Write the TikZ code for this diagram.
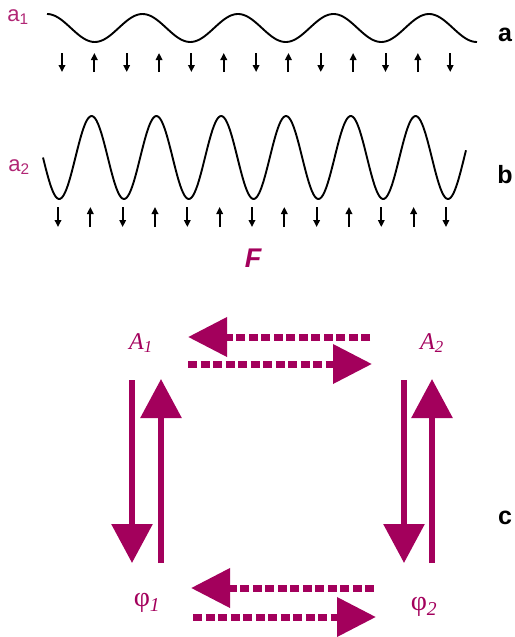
\documentclass[tikz,border=0pt]{standalone}
\usepackage{fontspec}
\setmainfont{Liberation Serif}
\setsansfont{Liberation Sans}
\usetikzlibrary{arrows.meta}
\definecolor{mg}{RGB}{163,0,92}

\begin{document}
\begin{tikzpicture}[x=1pt,y=-1pt,
  wave/.style={line width=1.9pt,line join=round},
  tick/.style={line width=2pt,-{Triangle[length=7pt,width=6.5pt]}},
  amp/.style={font=\sffamily\fontsize{22}{22}\selectfont,text=mg!85,inner sep=0pt},
  tag/.style={font=\sffamily\bfseries\fontsize{25}{25}\selectfont,inner sep=0pt},
  st/.style={font=\fontsize{24}{24}\selectfont,text=mg,inner sep=0pt},
  vert/.style={mg,line width=6pt,-{Triangle[length=39pt,width=40pt]}},
  hor/.style={mg,line width=7pt,dash pattern=on 9pt off 3.5pt,-{Triangle[length=39pt,width=38pt]}}]
  \useasboundingbox (0,0) rectangle (514,637);
  % a
  \node[amp] (aone) at (18,17) {a\textsubscript{1}};
  \draw[wave] plot[domain=47:477,samples=200,smooth] (\x,{28-14*cos(360*((\x-47)/95.5))});
  \foreach \i in {0,...,12} {
    \ifodd\i
      \draw[tick] ({62+32.35*\i},72) -- ({62+32.35*\i},53);
    \else
      \draw[tick] ({62+32.35*\i},53) -- ({62+32.35*\i},72);
    \fi
  }
  \node[tag] (taga) at (505,35) {a};
  % b
  \node[amp] (atwo) at (19,167) {a\textsubscript{2}};
  \draw[wave] plot[domain=43:466,samples=300,smooth] (\x,{157.5+41.5*sin(360*((\x-43)/64.8))});
  \foreach \i in {0,...,12} {
    \ifodd\i
      \draw[tick] ({58+32.33*\i},227) -- ({58+32.33*\i},207);
    \else
      \draw[tick] ({58+32.33*\i},207) -- ({58+32.33*\i},227);
    \fi
  }
  \node[tag] (tagb) at (505,175) {b};
  \node[font=\sffamily\bfseries\itshape\fontsize{27}{27}\selectfont,text=mg,inner sep=0pt] (force) at (253,258) {F};
  % c
  \node[st] (Aone) at (141,343) {\textit{A\textsubscript{1}}};
  \node[st] (Atwo) at (432,343) {\textit{A\textsubscript{2}}};
  \node[st,font=\fontsize{28}{28}\selectfont] (phione) at (147,603) {φ\textit{\textsubscript{1}}};
  \node[st,font=\fontsize{28}{28}\selectfont] (phitwo) at (424,607) {φ\textit{\textsubscript{2}}};
  \node[tag] (tagc) at (505,518) {c};
  \draw[hor] ([shift={(-62,-6)}]Atwo.center) -- ([shift={(47,-6)}]Aone.center);
  \draw[hor] ([shift={(47,21)}]Aone.center) -- ([shift={(-60,21)}]Atwo.center);
  \draw[hor] ([shift={(-50,-19)}]phitwo.center) -- ([shift={(44,-15)}]phione.center);
  \draw[hor] ([shift={(46,14)}]phione.center) -- ([shift={(-48,10)}]phitwo.center);
  \draw[vert] ([shift={(-9,37)}]Aone.center) -- ([shift={(-15,-40)}]phione.center);
  \draw[vert] ([shift={(14,-40)}]phione.center) -- ([shift={(20,36)}]Aone.center);
  \draw[vert] ([shift={(-28,37)}]Atwo.center) -- ([shift={(-20,-44)}]phitwo.center);
  \draw[vert] ([shift={(8,-44)}]phitwo.center) -- ([shift={(0,36)}]Atwo.center);
\end{tikzpicture}
\end{document}
